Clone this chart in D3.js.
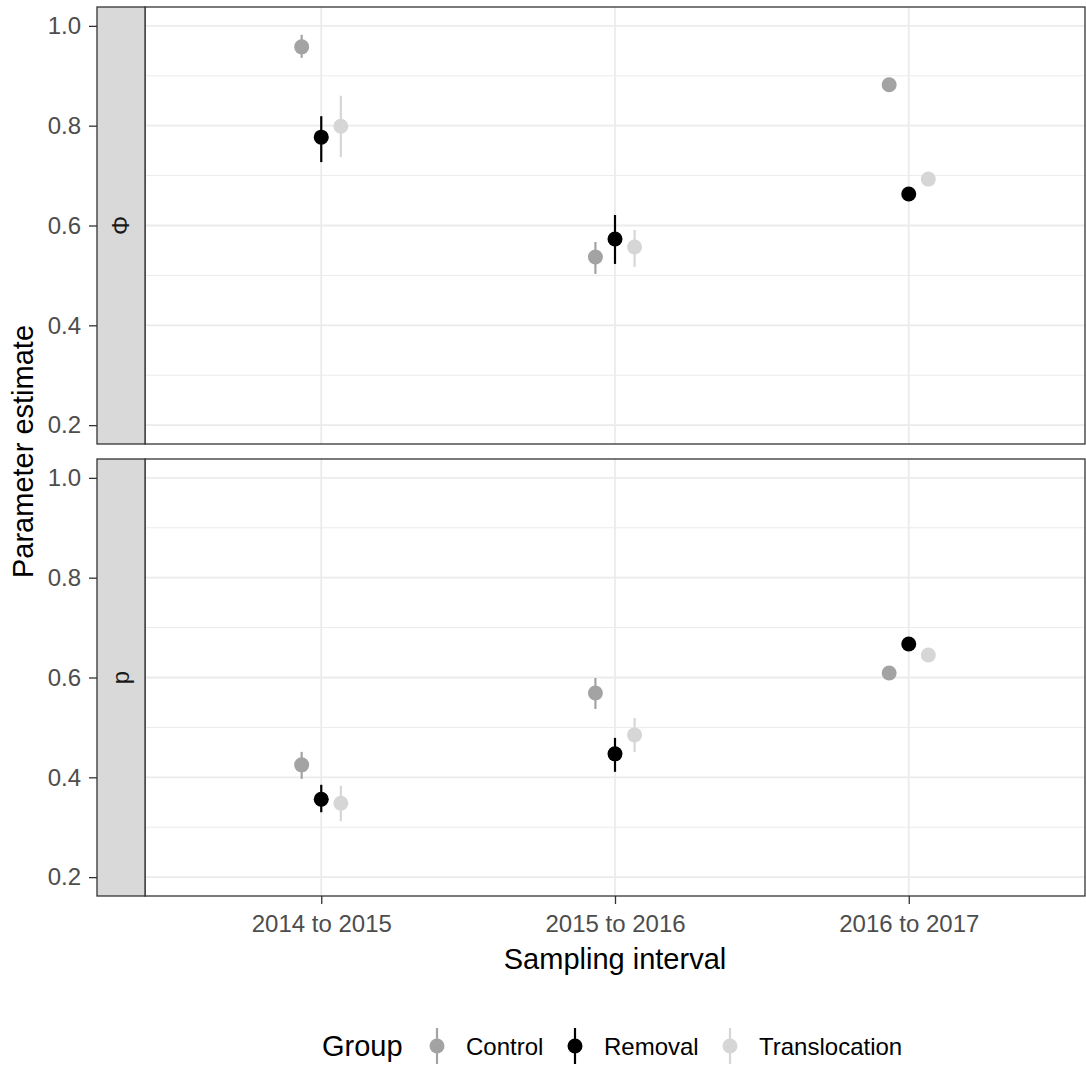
<!DOCTYPE html>
<html>
<head>
<meta charset="utf-8">
<script src="https://cdn.jsdelivr.net/npm/d3@7"></script>
<style>
  body { margin: 0; background: #fff; }
  text { font-family: "Liberation Sans", Arial, sans-serif; }
</style>
</head>
<body>
<div id="chart"></div>
<script>
// data
var intervals = ["2014 to 2015", "2015 to 2016", "2016 to 2017"];
var groups = ["Control", "Removal", "Translocation"];
var params = ["Φ", "p"];
var yTicks = [0.2, 0.4, 0.6, 0.8, 1.0];

// estimates per group, in interval order
var phiEst = {
  Control:       [0.958, 0.537, 0.882],
  Removal:       [0.777, 0.573, 0.663],
  Translocation: [0.799, 0.557, 0.693]
};
var phiLo = {
  Control:       [0.936, 0.503, 0.875],
  Removal:       [0.727, 0.523, 0.655],
  Translocation: [0.737, 0.517, 0.685]
};
var phiHi = {
  Control:       [0.982, 0.567, 0.889],
  Removal:       [0.819, 0.621, 0.671],
  Translocation: [0.860, 0.591, 0.701]
};
var pEst = {
  Control:       [0.425, 0.569, 0.609],
  Removal:       [0.356, 0.447, 0.667],
  Translocation: [0.348, 0.485, 0.645]
};
var pLo = {
  Control:       [0.397, 0.537, 0.600],
  Removal:       [0.330, 0.411, 0.658],
  Translocation: [0.312, 0.451, 0.636]
};
var pHi = {
  Control:       [0.451, 0.599, 0.618],
  Removal:       [0.385, 0.479, 0.676],
  Translocation: [0.383, 0.519, 0.654]
};

var colors = { Control: "#A3A3A3", Removal: "#000000", Translocation: "#D6D6D6" };

var W = 1086, H = 1068;
var stripX = 97, stripW = 48;
var px0 = 145, px1 = 1085;
var panels = [
  { label: params[0], y0: 7, y1: 444, est: phiEst, lo: phiLo, hi: phiHi },
  { label: params[1], y0: 459, y1: 896, est: pEst, lo: pLo, hi: pHi }
];
var tickFont = 24, titleFont = 29;

var svg = d3.select("#chart").append("svg")
  .attr("width", W).attr("height", H);

// discrete x axis with ggplot-like expansion (0.6 each side)
var xIdx = d3.scaleLinear().domain([-0.6, 2.6]).range([px0, px1]);
var dodge = d3.scaleOrdinal().domain(groups).range([-0.2 / 3, 0, 0.2 / 3]);

panels.forEach(function (pn) {
  var y = d3.scaleLinear().domain([0.1622, 1.0378]).range([pn.y1, pn.y0]);
  var g = svg.append("g");

  // grid
  var minor = d3.range(0.1, 1.01, 0.2).filter(function (v) { return y(v) > pn.y0 && y(v) < pn.y1; });
  g.selectAll(".minor").data(minor).enter().append("line")
    .attr("x1", px0).attr("x2", px1)
    .attr("y1", function (d) { return y(d); }).attr("y2", function (d) { return y(d); })
    .attr("stroke", "#EBEBEB").attr("stroke-width", 1);
  g.selectAll(".major").data(yTicks).enter().append("line")
    .attr("x1", px0).attr("x2", px1)
    .attr("y1", function (d) { return y(d); }).attr("y2", function (d) { return y(d); })
    .attr("stroke", "#EBEBEB").attr("stroke-width", 1.8);
  g.selectAll(".vmajor").data(intervals).enter().append("line")
    .attr("x1", function (d, i) { return xIdx(i); }).attr("x2", function (d, i) { return xIdx(i); })
    .attr("y1", pn.y0).attr("y2", pn.y1)
    .attr("stroke", "#EBEBEB").attr("stroke-width", 1.8);

  // marks
  groups.forEach(function (grp) {
    intervals.forEach(function (iv, i) {
      var cx = xIdx(i + dodge(grp));
      g.append("line")
        .attr("x1", cx).attr("x2", cx)
        .attr("y1", y(pn.lo[grp][i])).attr("y2", y(pn.hi[grp][i]))
        .attr("stroke", colors[grp]).attr("stroke-width", 2.2);
      g.append("circle")
        .attr("cx", cx).attr("cy", y(pn.est[grp][i])).attr("r", 7.5)
        .attr("fill", colors[grp]);
    });
  });

  // panel border
  g.append("rect")
    .attr("x", px0).attr("y", pn.y0)
    .attr("width", px1 - px0).attr("height", pn.y1 - pn.y0)
    .attr("fill", "none").attr("stroke", "#333333").attr("stroke-width", 1.3);

  // strip
  g.append("rect")
    .attr("x", stripX).attr("y", pn.y0)
    .attr("width", stripW).attr("height", pn.y1 - pn.y0)
    .attr("fill", "#D9D9D9").attr("stroke", "#333333").attr("stroke-width", 1.3);
  g.append("text")
    .attr("transform", "translate(" + (stripX + stripW / 2) + "," + ((pn.y0 + pn.y1) / 2) + ") rotate(-90)")
    .attr("text-anchor", "middle").attr("dy", "0.35em")
    .attr("font-size", tickFont).attr("fill", "#1A1A1A")
    .text(pn.label);

  // y axis
  var ax = g.append("g")
    .attr("transform", "translate(" + stripX + ",0)")
    .call(d3.axisLeft(y).tickValues(yTicks).tickFormat(d3.format(".1f")).tickSize(8).tickPadding(8));
  ax.select(".domain").remove();
  ax.selectAll(".tick line").attr("stroke", "#333333").attr("stroke-width", 1.3);
  ax.selectAll(".tick text").attr("fill", "#4D4D4D").attr("font-size", tickFont)
    .style("font-family", "Liberation Sans, Arial, sans-serif");
});

// x axis on bottom panel
var xBand = d3.scalePoint().domain(intervals).range([xIdx(0), xIdx(2)]);
var xa = svg.append("g")
  .attr("transform", "translate(0," + panels[1].y1 + ")")
  .call(d3.axisBottom(xBand).tickSize(8).tickPadding(11));
xa.select(".domain").remove();
xa.selectAll(".tick line").attr("stroke", "#333333").attr("stroke-width", 1.3);
xa.selectAll(".tick text").attr("fill", "#4D4D4D").attr("font-size", tickFont)
  .style("font-family", "Liberation Sans, Arial, sans-serif");

// axis titles
svg.append("text")
  .attr("x", (px0 + px1) / 2).attr("y", 969)
  .attr("text-anchor", "middle").attr("font-size", titleFont).attr("fill", "#000")
  .text("Sampling interval");
svg.append("text")
  .attr("transform", "translate(33," + ((panels[0].y0 + panels[1].y1) / 2) + ") rotate(-90)")
  .attr("text-anchor", "middle").attr("font-size", titleFont).attr("fill", "#000")
  .text("Parameter estimate");

// legend
var leg = svg.append("g").attr("transform", "translate(0,1046)");
leg.append("text").attr("x", 322).attr("y", 10)
  .attr("font-size", titleFont).attr("fill", "#000").text("Group");
var keyX = [437, 575, 730];
groups.forEach(function (grp, i) {
  leg.append("line")
    .attr("x1", keyX[i]).attr("x2", keyX[i]).attr("y1", -18).attr("y2", 18)
    .attr("stroke", colors[grp]).attr("stroke-width", 2.2);
  leg.append("circle").attr("cx", keyX[i]).attr("cy", 0).attr("r", 7.5).attr("fill", colors[grp]);
  leg.append("text").attr("x", keyX[i] + 29).attr("y", 8.5)
    .attr("font-size", tickFont).attr("fill", "#000").text(grp);
});
</script>
</body>
</html>
